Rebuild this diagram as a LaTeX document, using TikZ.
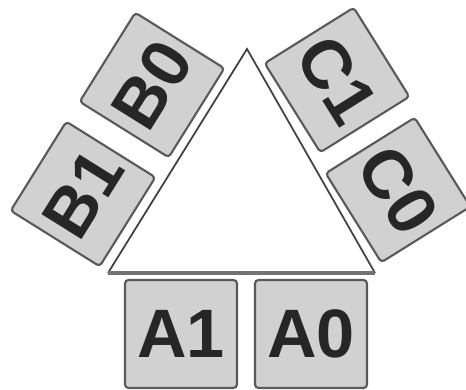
\documentclass[tikz,border=0pt]{standalone}
\usepackage{fontspec}
\setmainfont{Liberation Sans}
\usetikzlibrary{positioning}

\begin{document}
\begin{tikzpicture}
\tikzset{
   node distance = 2.6cm,
   tile/.style = {rectangle, draw = black!65, line width = 1.2pt, fill = black!18, text = black!85, rounded corners = 2pt, minimum width = 2.1cm, minimum height = 2.1cm, inner sep = 0pt, font = \fontsize{39}{39}\selectfont\bfseries},
   tile_a/.style = {tile, minimum width = 2.24cm, minimum height = 2.16cm},
   tile_b/.style = {tile, rotate = 58},
   tile_c/.style = {tile, rotate = -58},
   side/.style = {draw = black!75, line width = 1pt}
 }
  \useasboundingbox (0,0) rectangle (9.32,7.8);

  % the triangle
  \coordinate (apex) at (4.94,6.82);
  \coordinate (base_left) at (2.16,2.34);
  \coordinate (base_right) at (7.50,2.34);
  \draw[side] (base_left) -- (apex) -- (base_right);
  \draw[side, line width = 2pt, draw = black!55] (base_left) -- (base_right);

  % tiles along the base
  \node[tile_a] (a_one) at (3.62,1.12) {A1};
  \node[tile_a] (a_zero) [right of = a_one] {A0};

  % tiles along the left side
  \node[tile_b] (b_zero) at (3.04,6.10) {B0};
  \node[tile_b] (b_one) at (1.66,3.92) {B1};

  % tiles along the right side
  \node[tile_c] (c_one) at (6.74,6.20) {C1};
  \node[tile_c] (c_zero) at (7.96,4.00) {C0};

\end{tikzpicture}
\end{document}
